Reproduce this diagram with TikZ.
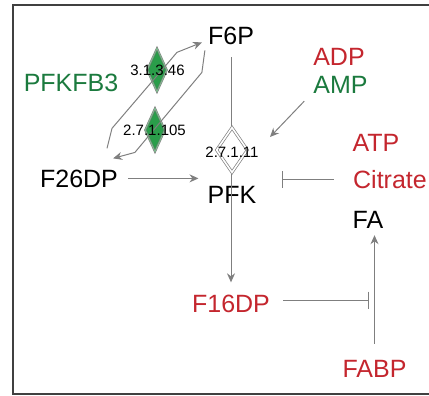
\documentclass[tikz,border=0pt]{standalone}
\usepackage{fontspec}
\setmainfont{Liberation Sans}
\usetikzlibrary{arrows.meta,shapes.geometric}
\definecolor{txtred}{HTML}{C4262E}
\definecolor{txtgreen}{HTML}{1B7A3E}
\definecolor{enzgreen}{HTML}{2A9D4A}
\definecolor{lgray}{HTML}{7F7F7F}

\begin{document}
\begin{tikzpicture}[x=1pt,y=-1pt,
    metab/.style={font=\fontsize{25}{30}\selectfont, inner sep=0pt, anchor=base},
    ecnum/.style={font=\fontsize{15}{18}\selectfont, inner sep=0pt},
    enzyme/.style={diamond, draw=lgray, line width=0.6pt, double=enzgreen!60!white, double distance=0.7pt, fill=enzgreen, inner sep=0pt, minimum width=20pt, minimum height=44pt},
    pfkbox/.style={diamond, draw=lgray, line width=0.7pt, double=white, double distance=1.6pt, fill=white, inner sep=0pt, minimum width=31pt, minimum height=45pt},
    conv/.style={draw=lgray, line width=1pt, -{Stealth[length=9pt,width=8pt]}},
    inhib/.style={draw=lgray, line width=1pt, -{Bar[width=17pt]}}]
                \useasboundingbox (0,0) rectangle (429,396);
                % Frame
                \draw[line width=1.3pt, black!75] (13,5) rectangle (440,394);
                
                % Metabolites and regulators
                \node[metab] (f6p) at (231,45) {F6P};
                \node[metab] (pfk) at (232,203) {PFK};
                \node[metab] (f26dp) at (79,187) {F26DP};
                \node[metab, txtred] (f16dp) at (231,312) {F16DP};
                \node[metab, txtgreen] (pfkfb3) at (71,92) {PFKFB3};
                \node[metab, txtred] (adp) at (339,66) {ADP};
                \node[metab, txtgreen] (amp) at (340.5,94) {AMP};
                \node[metab, txtred] (atp) at (376,151) {ATP};
                \node[metab, txtred] (citrate) at (390,188) {Citrate};
                \node[metab] (fa) at (368,228) {FA};
                \node[metab, txtred] (fabp) at (374.5,377) {FABP};
                
                % Main flux F6P -> F16DP
                \draw[conv, shorten <=12pt, shorten >=12pt] (f6p.south) -- (f16dp.north);
                \node[pfkbox] (pfk1) at (232,150) {};
                \node[ecnum] (pfk1lab) at (232,152) {2.7.1.11};
                
                % PFKFB3 cycle
                \node[enzyme] (fbpase) at (157,70) {};
                \node[enzyme] (pfk2) at (155,130) {};
                \draw[conv] ([xshift=28pt,yshift=21pt]f26dp.north) -- ++(5,-20) -- ++(65,-76) -- ([xshift=-6pt,yshift=-6pt]f6p.west);
                \draw[conv] ([xshift=-3pt,yshift=-5pt]f6p.south west) -- ++(-3,22) -- ++(-67,80) -- ([xshift=-5pt,yshift=11pt]f26dp.north east);
                \node[ecnum] (fbpaselab) at (157.5,70) {3.1.3.46};
                \node[ecnum] (pfk2lab) at (154.5,130) {2.7.1.105};
                
                % Activators
                \draw[conv, shorten <=10pt, shorten >=9pt] (f26dp.east) -- (f26dp.east -| pfk.west);
                \draw[conv] ([xshift=-9pt,yshift=-7pt]amp.south west) -- ([xshift=38pt,yshift=13pt]pfk1.center);
                
                % Inhibitors
                \coordinate (pfkin) at (282,180);
                \coordinate (fablk) at (369,300);
                \draw[inhib, shorten <=19pt] (citrate.west) -- (citrate.west -| pfkin);
                \draw[inhib, shorten <=13pt] (fablk -| f16dp.east) -- (fablk);
                
                % FABP -> FA
                \draw[conv, shorten <=16pt, shorten >=7pt] (fabp.north) -- (fabp.north |- fa.south);
            \end{tikzpicture}
\end{document}
